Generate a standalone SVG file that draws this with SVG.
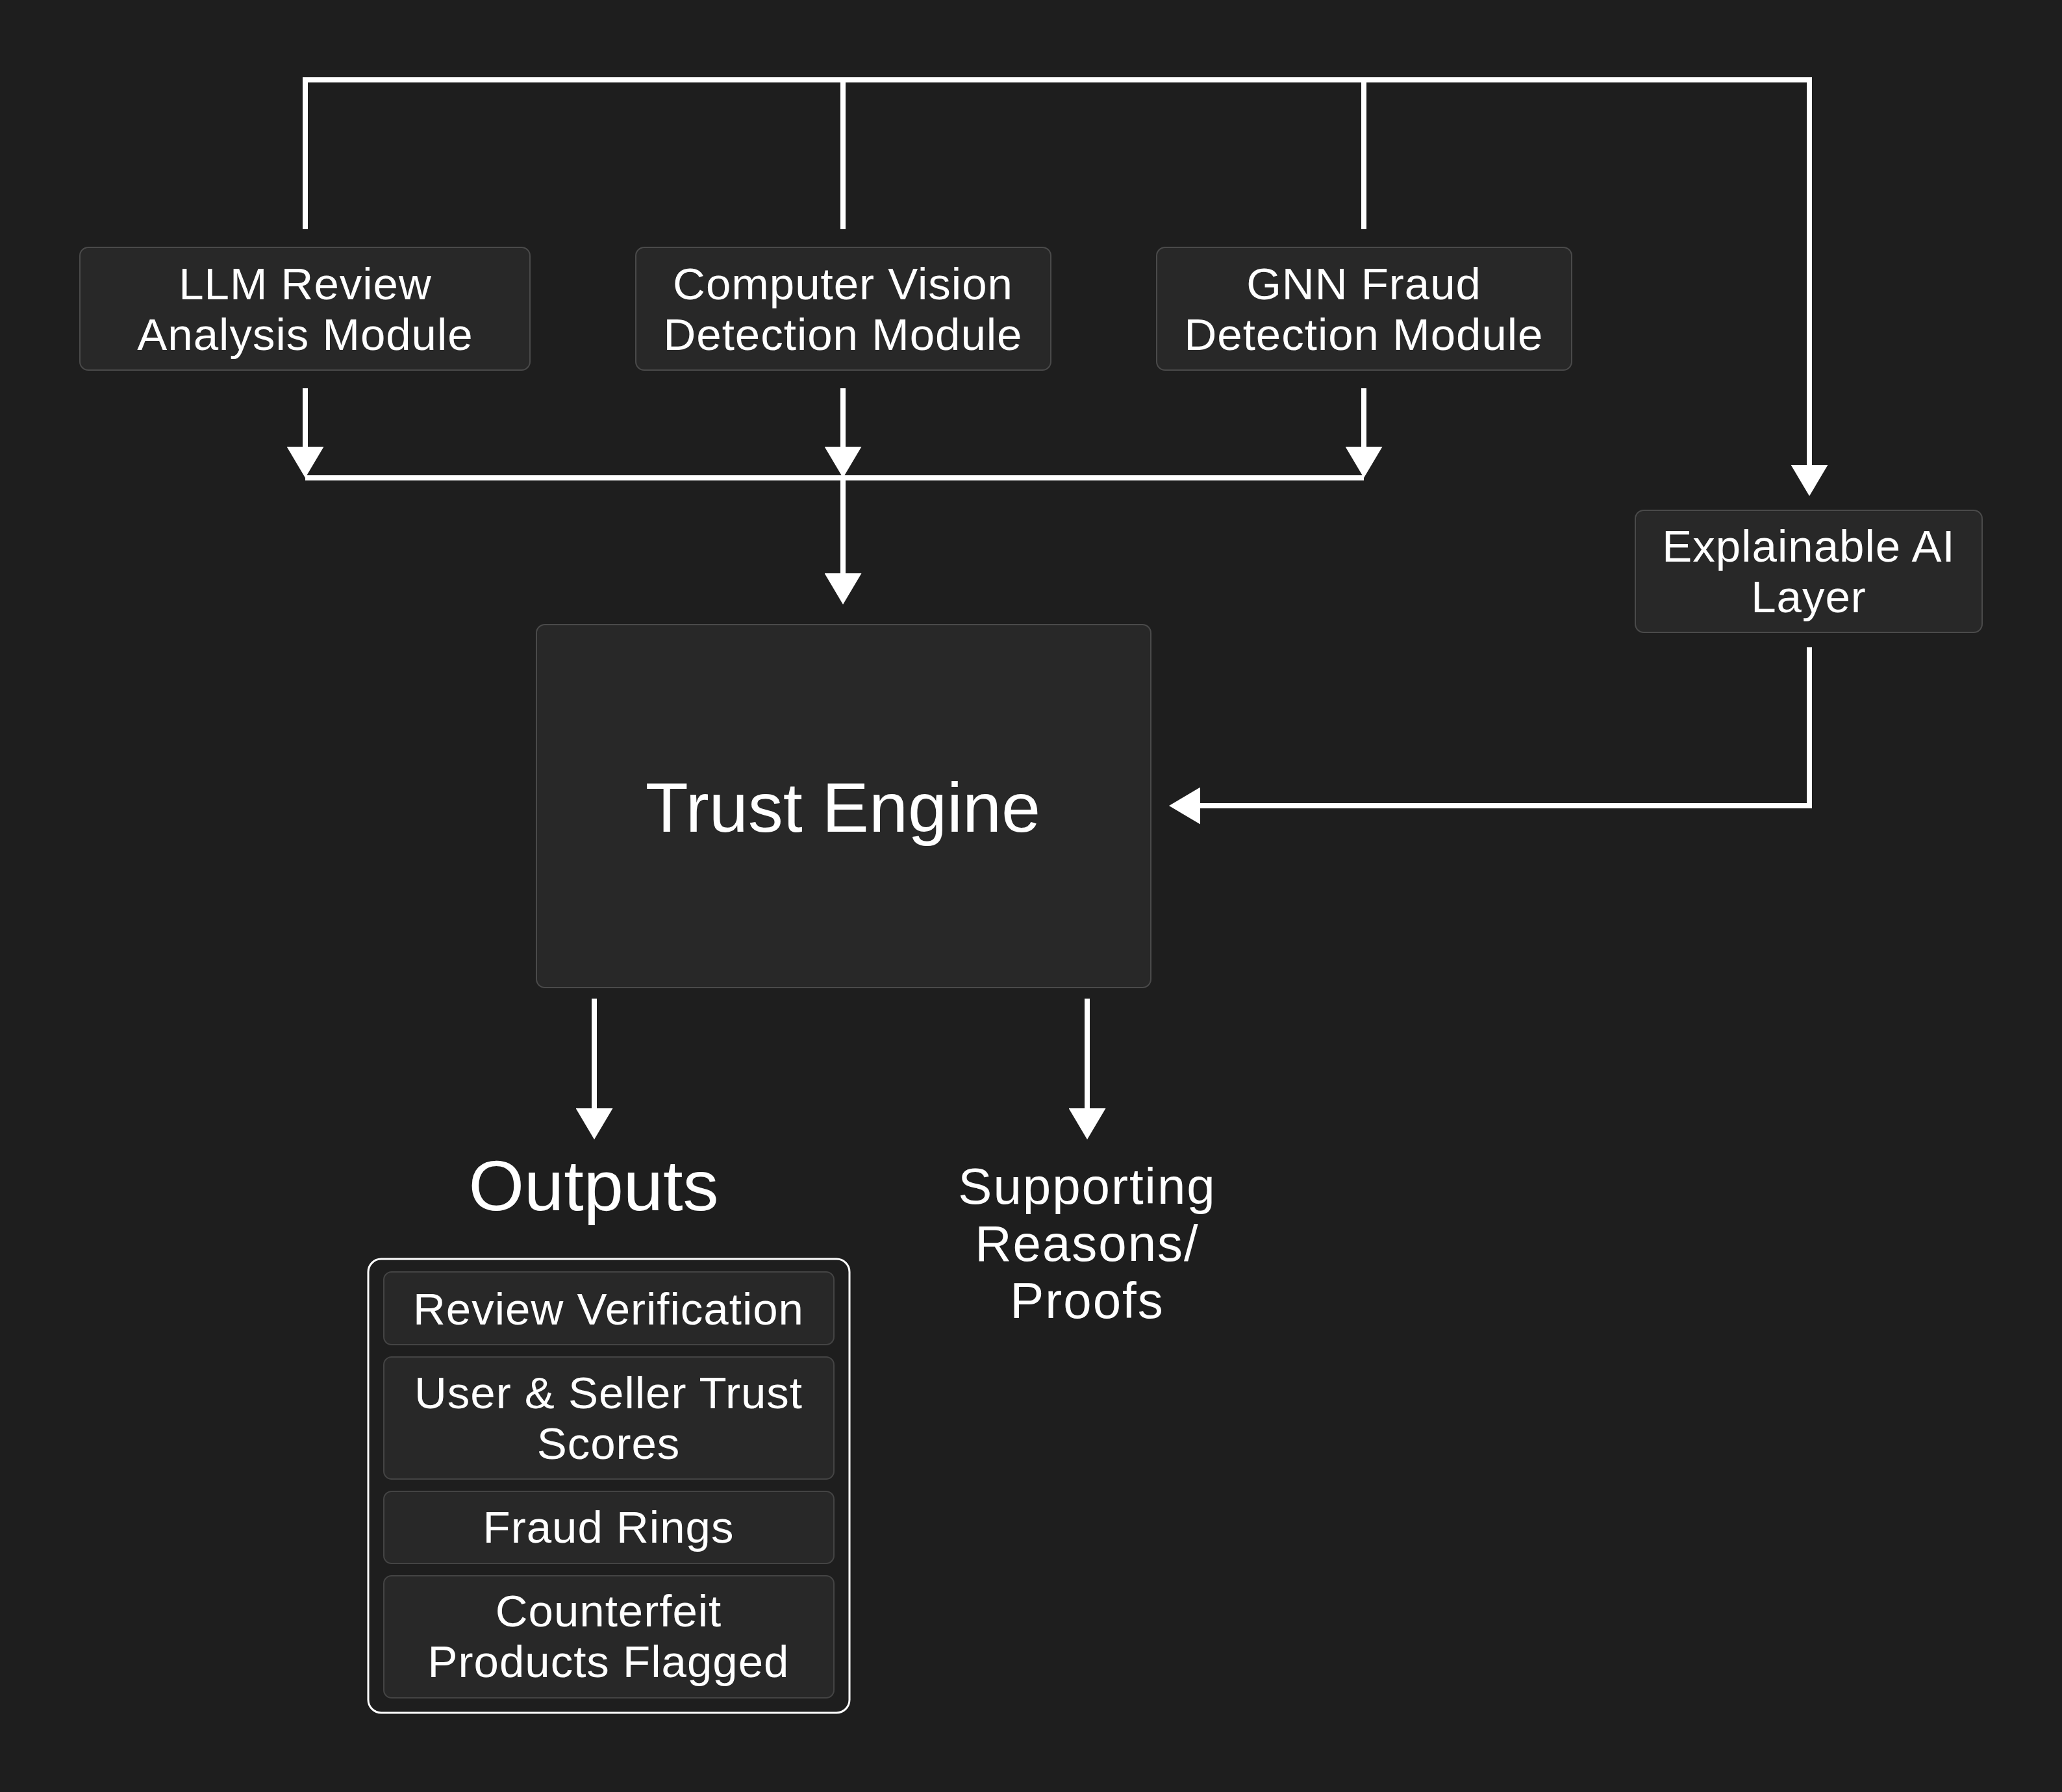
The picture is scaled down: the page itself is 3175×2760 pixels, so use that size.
<svg xmlns="http://www.w3.org/2000/svg" width="3175" height="2760" viewBox="0 0 3175 2760">
  <style>
    .node { fill: #282828; stroke: #4a4a4a; stroke-width: 2; }
    .item { fill: #282828; stroke: #444444; stroke-width: 2; }
    .t { font-family: "Liberation Sans", Arial, sans-serif; fill: #ffffff; text-anchor: middle; }
    .n { font-size: 69px; letter-spacing: 1px; }
    .s { font-size: 78px; letter-spacing: 2px; }
    .big { font-size: 108px; }
    .out { font-size: 110px; }
    .c { fill: none; stroke: #ffffff; stroke-width: 8; stroke-linecap: butt; }
  </style>
  <defs>
    <marker id="ah" markerUnits="userSpaceOnUse" viewBox="0 0 48 57" refX="4" refY="28.5" markerWidth="48" markerHeight="57" orient="auto">
      <path d="M0 0 L48 28.5 L0 57 Z" fill="#ffffff"/>
    </marker>
  </defs>
  <rect width="3175" height="2760" fill="#1e1e1e"/>

  <g id="connectors">
    <line class="c" x1="466" y1="123" x2="2790" y2="123"/>
    <line class="c" x1="470" y1="119" x2="470" y2="353"/>
    <line class="c" x1="1298" y1="123" x2="1298" y2="353"/>
    <line class="c" x1="2100" y1="123" x2="2100" y2="353"/>
    <path class="c" d="M2786 123 V720" marker-end="url(#ah)"/>
    <path class="c" d="M470 598 V692" marker-end="url(#ah)"/>
    <path class="c" d="M1298 598 V692" marker-end="url(#ah)"/>
    <path class="c" d="M2100 598 V692" marker-end="url(#ah)"/>
    <line class="c" x1="470" y1="736" x2="2100" y2="736"/>
    <path class="c" d="M1298 736 V887" marker-end="url(#ah)"/>
    <path class="c" d="M2786 997 V1241 H1844" marker-end="url(#ah)"/>
    <path class="c" d="M915 1538 V1711" marker-end="url(#ah)"/>
    <path class="c" d="M1674 1538 V1711" marker-end="url(#ah)"/>
  </g>

  <g id="llm">
    <rect class="node" x="123" y="381" width="693" height="189" rx="13"/>
    <text class="t n"><tspan x="470" y="461">LLM Review</tspan><tspan x="470" y="539">Analysis Module</tspan></text>
  </g>
  <g id="cv">
    <rect class="node" x="979" y="381" width="639" height="189" rx="13"/>
    <text class="t n"><tspan x="1298" y="461">Computer Vision</tspan><tspan x="1298" y="539">Detection Module</tspan></text>
  </g>
  <g id="gnn">
    <rect class="node" x="1781" y="381" width="639" height="189" rx="13"/>
    <text class="t n"><tspan x="2100" y="461">GNN Fraud</tspan><tspan x="2100" y="539">Detection Module</tspan></text>
  </g>
  <g id="xai">
    <rect class="node" x="2518" y="786" width="534" height="188" rx="13"/>
    <text class="t n"><tspan x="2785" y="865">Explainable AI</tspan><tspan x="2785" y="943">Layer</tspan></text>
  </g>
  <g id="trust">
    <rect class="node" x="826" y="962" width="946" height="559" rx="13"/>
    <text class="t big" x="1298" y="1281">Trust Engine</text>
  </g>
  <g id="outputs-label">
    <text class="t out" x="914" y="1864">Outputs</text>
  </g>
  <g id="supporting">
    <text class="t s"><tspan x="1674" y="1854">Supporting</tspan><tspan x="1674" y="1942">Reasons/</tspan><tspan x="1674" y="2030">Proofs</tspan></text>
  </g>
  <g id="outputs">
    <rect x="567" y="1939" width="741" height="699" rx="20" fill="#1e1e1e" stroke="#ffffff" stroke-width="3"/>
    <g id="out-review">
      <rect class="item" x="591" y="1959" width="693" height="112" rx="12"/>
      <text class="t n" x="937" y="2040">Review Verification</text>
    </g>
    <g id="out-scores">
      <rect class="item" x="591" y="2090" width="693" height="188" rx="12"/>
      <text class="t n"><tspan x="937" y="2169">User &amp; Seller Trust</tspan><tspan x="937" y="2247">Scores</tspan></text>
    </g>
    <g id="out-rings">
      <rect class="item" x="591" y="2297" width="693" height="111" rx="12"/>
      <text class="t n" x="937" y="2376">Fraud Rings</text>
    </g>
    <g id="out-counterfeit">
      <rect class="item" x="591" y="2427" width="693" height="188" rx="12"/>
      <text class="t n"><tspan x="937" y="2505">Counterfeit</tspan><tspan x="937" y="2583">Products Flagged</tspan></text>
    </g>
  </g>
</svg>
